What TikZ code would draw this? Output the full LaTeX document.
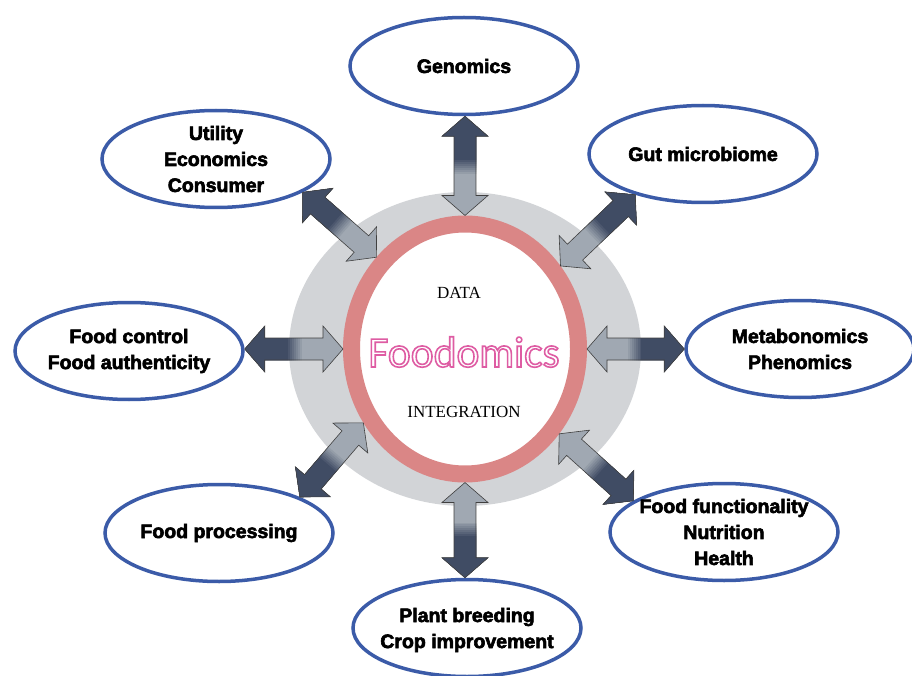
\documentclass[tikz,border=0pt]{standalone}
\usepackage{fontspec}
\setmainfont{Liberation Serif}
\newfontfamily\boxfont[BoldFeatures={FakeBold=3}]{Liberation Sans}
\newfontfamily\titlefont{Carlito}
\usepackage{xcolor}
\usetikzlibrary{shapes.geometric, calc}

\definecolor{boxblue}{RGB}{59,91,168}
\definecolor{ringred}{RGB}{218,134,134}
\definecolor{ringgray}{RGB}{210,212,215}
\definecolor{arrdark}{RGB}{64,76,100}
\definecolor{arrlight}{RGB}{160,168,178}

% outlined text (stroke only)
\newcommand{\outlined}[1]{%
  \special{pdf:literal direct 1 Tr 1.6 w 0.87 0.36 0.64 RG}#1\special{pdf:literal direct 0 Tr}}

\newcommand{\arrowpath}{(t1) -- ($(h1)!23pt!90:(t2)$) -- ($(h1)!11pt!90:(t2)$)
    -- ($(h2)!11pt!-90:(t1)$) -- ($(h2)!23pt!-90:(t1)$) -- (t2)
    -- ($(h2)!23pt!90:(t1)$) -- ($(h2)!11pt!90:(t1)$)
    -- ($(h1)!11pt!-90:(t2)$) -- ($(h1)!23pt!-90:(t2)$) -- cycle}

% double block arrow: #1 outer tip, #2 inner tip
\newcommand{\dblarrow}[2]{%
  \coordinate (t1) at #1;
  \coordinate (t2) at #2;
  \coordinate (h1) at ($(t1)!20pt!(t2)$);
  \coordinate (h2) at ($(t2)!20pt!(t1)$);
  \begin{scope}
    \clip \arrowpath;
    \fill[arrlight] \arrowpath;
    \coordinate (qa) at ($(t1)!-0.1!(t2)$);
    \foreach \k in {1,...,8} {
      \pgfmathsetmacro\fr{0.6-0.02*\k}
      \pgfmathsetmacro\mx{12.5*\k}
      \coordinate (qb) at ($(t1)!\fr!(t2)$);
      \fill[arrdark!\mx!arrlight] ($(qa)!30pt!90:(t2)$) -- ($(qb)!30pt!90:(t2)$)
        -- ($(qb)!30pt!-90:(t2)$) -- ($(qa)!30pt!-90:(t2)$) -- cycle;
    }
  \end{scope}
  \draw[arrline] \arrowpath;
}

\begin{document}
\begin{tikzpicture}[
    x=1pt, y=-1pt,
    box/.style={ellipse, draw=boxblue, line width=3.5pt, fill=white, minimum width=228pt, minimum height=97pt},
    lbl/.style={font=\boxfont\bfseries\fontsize{19.5}{26}\selectfont, align=center, inner sep=0pt},
    arrline/.style={draw=black!75, line width=0.6pt, line join=miter},
    caps/.style={font=\fontsize{17}{20}\selectfont, anchor=base, inner sep=0pt}
]

\useasboundingbox (0,0) rectangle (912,676);

% Centre rings
\node[ellipse, fill=ringgray, minimum width=352pt, minimum height=314pt] (halo) at (465,349) {};
\node[ellipse, draw=ringred, line width=17pt, fill=white, minimum width=227pt, minimum height=250pt] (ring) at (465,349) {};

\node[caps] (data) at (459,298) {DATA};
\node[caps] (integ) at (464,417) {INTEGRATION};
\node[anchor=base, inner sep=0pt, font=\titlefont\fontsize{43.5}{50}\selectfont] (title) at (464,367)
    {\outlined{Foodomics}};

% Topics
\node[box] (gen) at (464,66) {};
\node[box] (util) at (216,159) {};
\node[box] (gut) at (703,154) {};
\node[box] (fctl) at (129,351) {};
\node[box] (meta) at (800,349) {};
\node[box] (fproc) at (219,533) {};
\node[box] (ffun) at (724,532) {};
\node[box] (plant) at (467,628) {};

\node[lbl] at (gen) {Genomics};
\node[lbl] at (util) {Utility\\Economics\\Consumer};
\node[lbl] at (gut) {Gut microbiome};
\node[lbl] at (fctl) {Food control\\Food authenticity};
\node[lbl] at (meta) {Metabonomics\\Phenomics};
\node[lbl] at (fproc) {Food processing};
\node[lbl] at (ffun) {Food functionality\\Nutrition\\Health};
\node[lbl] at ([yshift=-2pt]plant) {Plant breeding\\Crop improvement};

% Arrows
\dblarrow{(gen.south -| ring.north)}{(ring.north)}
\dblarrow{(plant.north -| ring.south)}{(ring.south)}
\dblarrow{(fctl.east |- ring.west)}{(ring.west)}
\dblarrow{(meta.west |- ring.east)}{(ring.east)}
\dblarrow{(util.-21)}{(ring.134)}
\dblarrow{(gut.211)}{(ring.41)}
\dblarrow{(fproc.24)}{(ring.216)}
\dblarrow{(ffun.161)}{(ring.318)}

\end{tikzpicture}
\end{document}
